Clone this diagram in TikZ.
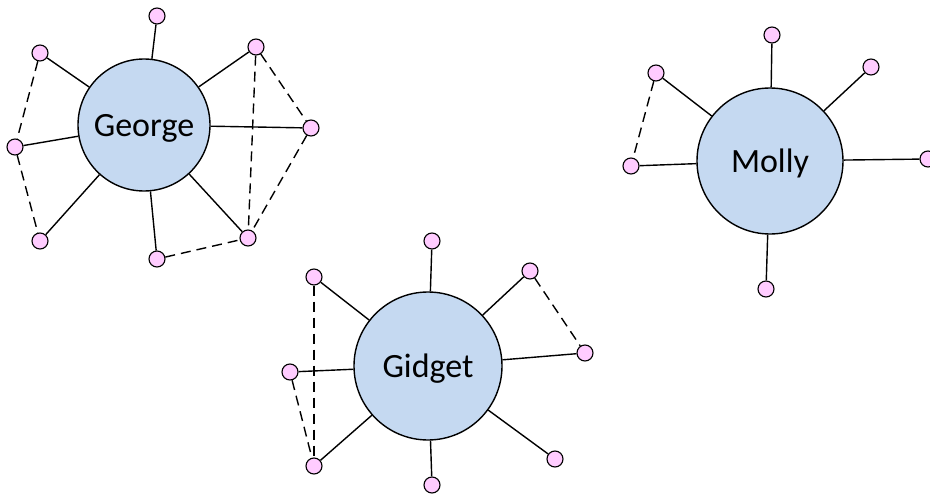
\documentclass[tikz,border=0pt]{standalone}
\usepackage{fontspec}
\setmainfont{Carlito}
\begin{document}
\begin{tikzpicture}[x=1pt,y=-1pt,
  hub/.style={circle,draw=black,line width=1.4pt,fill=hubblue,inner sep=0pt,text depth=0pt,font=\fontsize{34}{40}\selectfont},
  sat/.style={circle,draw=black,line width=1.1pt,fill=satpink,inner sep=0pt,minimum size=16pt},
  tie/.style={draw=black,line width=1.4pt},
  weak/.style={draw=black,line width=1.4pt,dash pattern=on 10pt off 6pt}]
\definecolor{hubblue}{RGB}{197,217,241}
\definecolor{satpink}{RGB}{255,204,255}
\useasboundingbox (0,0) rectangle (930,495);
% George
\node[hub,minimum size=132pt] (G) at (144,125) {George};
\node[sat] (g1) at (157,16) {};
\node[sat] (g2) at (40,53) {};
\node[sat] (g3) at (15,147) {};
\node[sat] (g4) at (40,241) {};
\node[sat] (g5) at (157,259) {};
\node[sat] (g6) at (248,238) {};
\node[sat] (g7) at (311,128) {};
\node[sat] (g8) at (256,47) {};
\foreach \s in {g1,g2,g3,g4,g5,g6,g7,g8} \draw[tie] (G) -- (\s);
\draw[weak] (g2) -- (g3);
\draw[weak] (g3) -- (g4);
\draw[weak] (g8) -- (g6);
\draw[weak] (g8) -- (g7);
\draw[weak] (g7) -- (g6);
\draw[weak] (g5) -- (g6);
% Gidget
\node[hub,minimum size=148pt] (D) at (428,366) {Gidget};
\node[sat] (d1) at (432,241) {};
\node[sat] (d2) at (314,277) {};
\node[sat] (d3) at (290,372) {};
\node[sat] (d4) at (314,466) {};
\node[sat] (d5) at (432,485) {};
\node[sat] (d6) at (555,459) {};
\node[sat] (d7) at (585,353) {};
\node[sat] (d8) at (530,271) {};
\foreach \s in {d1,d2,d3,d4,d5,d6,d7,d8} \draw[tie] (D) -- (\s);
\draw[weak] (d2) -- (d4);
\draw[weak] (d3) -- (d4);
\draw[weak] (d8) -- (d7);
% Molly
\node[hub,minimum size=146pt] (M) at (770,161) {Molly};
\node[sat] (m1) at (772,35) {};
\node[sat] (m2) at (871,67) {};
\node[sat] (m3) at (928,159) {};
\node[sat] (m4) at (766,289) {};
\node[sat] (m5) at (631,166) {};
\node[sat] (m6) at (656,73) {};
\foreach \s in {m1,m2,m3,m4,m5,m6} \draw[tie] (M) -- (\s);
\draw[weak] (m6) -- (m5);
\end{tikzpicture}
\end{document}
